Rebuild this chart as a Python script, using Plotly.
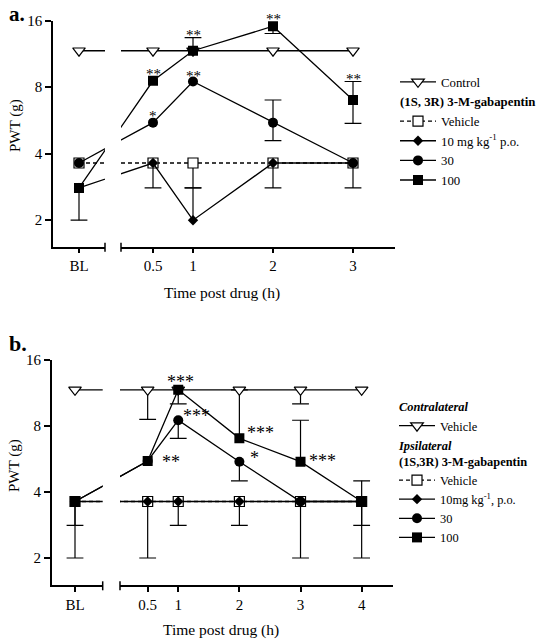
import numpy as np
import plotly.graph_objects as go

# ---------------- data ----------------
# Panel a  (time points: BL, 0.5, 1, 2, 3 h)
a_time_labels = ["BL", "0.5", "1", "2", "3"]
a_times = ["BL", 0.5, 1, 2, 3]
a_control = [11.7, 11.7, 11.7, 11.7, 11.7]
a_vehicle = [3.63, 3.63, 3.63, 3.63, 3.63]
a_dose10 = [2.8, 3.63, 2.0, 3.63, 3.63]
a_dose30 = [3.63, 5.53, 8.49, 5.53, 3.63]
a_dose100 = [2.8, 8.55, 11.7, 15.1, 7.0]
# error bar ends (g); None = no bar on that side
a_control_hi = [None, None, None, None, None]
a_control_lo = [None, None, None, None, None]
a_vehicle_hi = [None, None, None, None, None]
a_vehicle_lo = [None, 2.8, 2.8, 2.8, 2.8]
a_dose10_hi = [None, None, 2.8, None, None]
a_dose10_lo = [None, None, None, None, None]
a_dose30_hi = [None, None, None, 7.0, None]
a_dose30_lo = [None, None, None, 4.58, None]
a_dose100_hi = [None, None, 13.4, None, 8.49]
a_dose100_lo = [2.0, None, None, 14.0, 5.49]
a_star_x = [0.5, 0.5, 1, 1, 2, 3]
a_star_at = [8.55, 5.53, 13.4, 8.49, 15.1, 8.49]
a_star_text = ["**", "*", "**", "**", "**", "**"]

# Panel b  (time points: BL, 0.5, 1, 2, 3, 4 h)
b_time_labels = ["BL", "0.5", "1", "2", "3", "4"]
b_times = ["BL", 0.5, 1, 2, 3, 4]
b_control = [11.7, 11.7, 11.7, 11.7, 11.7, 11.7]
b_vehicle = [3.62, 3.62, 3.62, 3.62, 3.62, 3.62]
b_dose10 = [3.62, 3.62, 3.62, 3.62, 3.62, 3.62]
b_dose30 = [3.62, 5.54, 8.5, 5.5, 3.62, 3.62]
b_dose100 = [3.62, 5.54, 11.7, 7.03, 5.5, 3.62]
b_control_hi = [None, None, None, None, None, None]
b_control_lo = [None, 8.58, None, None, 10.1, None]
b_vehicle_hi = [None, None, None, None, None, None]
b_vehicle_lo = [2.0, 2.0, 2.82, 2.82, 2.0, 2.0]
b_dose10_hi = [None, None, None, None, None, None]
b_dose10_lo = [2.82, None, None, None, None, 2.82]
b_dose30_hi = [None, None, None, None, None, None]
b_dose30_lo = [None, None, 7.03, 4.5, None, None]
b_dose100_hi = [None, None, None, 11.7, 8.5, 4.5]
b_dose100_lo = [None, None, 10.1, None, None, None]
b_star_x = [0.5, 1, 1, 2, 2, 3]
b_star_at = [5.54, 11.7, 8.5, 7.03, 5.5, 5.5]
b_star_text = ["**", "***", "***", "***", "*", "***"]

y_ticks = [2, 4, 8, 16]

# ---------------- layout geometry (pixels) ----------------
W, H = 547, 640
FONT = "Liberation Serif"


def fx(p):
    return p / W


def fy(p):
    return 1 - p / H


PANELS = {
    "a": dict(ytop=20.7, ybot=246.7, ppd=66.5, left=53, seg1r=105, seg2l=121, right=395,
              x0=113, unit=80, blpx=79, xa1="x", xa2="x2", ya="y", legend="legend"),
    "b": dict(ytop=360, ybot=585.3, ppd=66.0, left=51.7, seg1r=102.7, seg2l=120, right=392.7,
              x0=117.1, unit=61.14, blpx=75, xa1="x3", xa2="x4", ya="y2", legend="legend2"),
}
for P in PANELS.values():
    P["bl"] = (P["blpx"] - P["x0"]) / P["unit"]
    P["r1"] = [(P["left"] - P["x0"]) / P["unit"], (P["seg1r"] - P["x0"]) / P["unit"]]
    P["r2"] = [(P["seg2l"] - P["x0"]) / P["unit"], (P["right"] - P["x0"]) / P["unit"]]
    ybottom = 16 / 2 ** ((P["ybot"] - P["ytop"]) / P["ppd"])
    P["yr"] = [np.log10(ybottom), np.log10(16)]

fig = go.Figure()

STY = {
    "control": dict(marker=dict(symbol="triangle-down", size=11, color="white",
                                line=dict(color="black", width=1.2)),
                    line=dict(color="black", width=1.3)),
    "vehicle": dict(marker=dict(symbol="square", size=10, color="white",
                                line=dict(color="black", width=1.2)),
                    line=dict(color="black", width=1.3, dash="4px,3px")),
    "d10": dict(marker=dict(symbol="diamond", size=8, color="black"),
                line=dict(color="black", width=1.3)),
    "d30": dict(marker=dict(symbol="circle", size=10, color="black"),
                line=dict(color="black", width=1.3)),
    "d100": dict(marker=dict(symbol="square", size=10, color="black"),
                 line=dict(color="black", width=1.3)),
}


def xpos(times, P):
    return [P["bl"] if t == "BL" else t for t in times]


def add_errors(P, times, series):
    xs = xpos(times, P)
    sx, sy, cx, cy = [], [], [], []
    for vals, hi, lo in series:
        for x, v, h, l in zip(xs, vals, hi, lo):
            if h is None and l is None:
                continue
            top = h if h is not None else v
            bot = l if l is not None else v
            sx += [x, x, None]
            sy += [top, bot, None]
            if h is not None:
                cx.append(x); cy.append(h)
            if l is not None:
                cx.append(x); cy.append(l)
    for xa in (P["xa1"], P["xa2"]):
        fig.add_trace(go.Scatter(x=sx, y=sy, mode="lines", xaxis=xa, yaxis=P["ya"],
                                 line=dict(color="black", width=1.2), showlegend=False,
                                 hoverinfo="skip"))
        fig.add_trace(go.Scatter(x=cx, y=cy, mode="markers", xaxis=xa, yaxis=P["ya"],
                                 marker=dict(symbol="line-ew", size=12,
                                             line=dict(color="black", width=1.2)),
                                 showlegend=False, hoverinfo="skip"))


LEGFONT_A = dict(family=FONT, size=12.8, color="black")
LEGFONT_B = dict(family=FONT, size=12.4, color="black")


def add_series(P, times, vals, key, name, group, gtitle=None, gfont=None):
    xs = xpos(times, P)
    for i, xa in enumerate((P["xa1"], P["xa2"])):
        kw = dict(x=xs, y=vals, mode="lines+markers", xaxis=xa, yaxis=P["ya"],
                  name=name, legend=P["legend"], legendgroup=P["legend"] + group,
                  showlegend=(i == 1), **STY[key])
        if gtitle:
            kw["legendgrouptitle"] = dict(text=gtitle, font=gfont)
        fig.add_trace(go.Scatter(**kw))


# ---- panel a ----
PA = PANELS["a"]
add_errors(PA, a_times, [(a_control, a_control_hi, a_control_lo),
                         (a_vehicle, a_vehicle_hi, a_vehicle_lo),
                         (a_dose10, a_dose10_hi, a_dose10_lo),
                         (a_dose30, a_dose30_hi, a_dose30_lo),
                         (a_dose100, a_dose100_hi, a_dose100_lo)])
add_series(PA, a_times, a_control, "control", "Control", "g1")
GT_A = "<b>(1S, 3R) 3-M-gabapentin</b>"
add_series(PA, a_times, a_vehicle, "vehicle", "Vehicle", "g2", GT_A, LEGFONT_A)
add_series(PA, a_times, a_dose10, "d10", "10 mg kg<sup>-1</sup> p.o.", "g2", GT_A, LEGFONT_A)
add_series(PA, a_times, a_dose30, "d30", "30", "g2", GT_A, LEGFONT_A)
add_series(PA, a_times, a_dose100, "d100", "100", "g2", GT_A, LEGFONT_A)

# ---- panel b ----
PB = PANELS["b"]
add_errors(PB, b_times, [(b_control, b_control_hi, b_control_lo),
                         (b_vehicle, b_vehicle_hi, b_vehicle_lo),
                         (b_dose10, b_dose10_hi, b_dose10_lo),
                         (b_dose30, b_dose30_hi, b_dose30_lo),
                         (b_dose100, b_dose100_hi, b_dose100_lo)])
add_series(PB, b_times, b_control, "control", "Vehicle", "g1", "<b><i>Contralateral</i></b>", LEGFONT_B)
GT_B = "<b><i>Ipsilateral</i></b><br><b>(1S,3R) 3-M-gabapentin</b>"
add_series(PB, b_times, b_vehicle, "vehicle", "Vehicle", "g2", GT_B, LEGFONT_B)
add_series(PB, b_times, b_dose10, "d10", "10mg kg<sup>-1</sup>, p.o.", "g2", GT_B, LEGFONT_B)
add_series(PB, b_times, b_dose30, "d30", "30", "g2", GT_B, LEGFONT_B)
add_series(PB, b_times, b_dose100, "d100", "100", "g2", GT_B, LEGFONT_B)

# ---------------- axes ----------------
tickfont = dict(family=FONT, size=15, color="black")
axline = dict(showline=True, linecolor="black", linewidth=1.5, ticks="outside",
              tickcolor="black", tickwidth=1.5, showgrid=False, zeroline=False,
              tickfont=tickfont, automargin=False)

layout = dict(template="none", width=W, height=H, margin=dict(l=0, r=0, t=0, b=0, autoexpand=False),
              paper_bgcolor="white", plot_bgcolor="white", showlegend=True,
              font=dict(family=FONT, color="black"))

for P, labels, times, ax1, ax2, yk in ((PA, a_time_labels, a_times, "xaxis", "xaxis2", "yaxis"),
                                        (PB, b_time_labels, b_times, "xaxis3", "xaxis4", "yaxis2")):
    ydom = [fy(P["ybot"]), fy(P["ytop"])]
    layout[ax1] = dict(domain=[fx(P["left"]), fx(P["seg1r"])], range=P["r1"], anchor=P["ya"],
                       tickvals=[P["bl"]], ticktext=[labels[0]], ticklen=5, **axline)
    layout[ax2] = dict(domain=[fx(P["seg2l"]), fx(P["right"])], range=P["r2"], anchor=P["ya"],
                       tickvals=times[1:], ticktext=labels[1:], ticklen=5, **axline)
    layout[yk] = dict(domain=ydom, type="log", range=P["yr"], anchor=P["xa1"],
                      tickvals=y_ticks, ticktext=[str(v) for v in y_ticks], ticklen=6, **axline)

# legends
layout["legend"] = dict(x=fx(395), y=fy(67), xanchor="left", yanchor="top", font=LEGFONT_A,
                        traceorder="grouped", tracegroupgap=0, bgcolor="rgba(0,0,0,0)",
                        itemwidth=36)
layout["legend2"] = dict(x=fx(394), y=fy(392), xanchor="left", yanchor="top", font=LEGFONT_B,
                         traceorder="grouped", tracegroupgap=0, bgcolor="rgba(0,0,0,0)",
                         itemwidth=36)

fig.update_layout(**layout)

# axis-break end ticks
for P in (PA, PB):
    for xa, xv in ((P["xa1"], 1), (P["xa2"], 0)):
        fig.add_shape(type="line", xref=xa + " domain", x0=xv, x1=xv,
                      yref=P["ya"] + " domain", ysizemode="pixel", yanchor=0, y0=-5, y1=4,
                      line=dict(color="black", width=1.5))

# axis titles and panel labels
TXT = dict(xref="paper", yref="paper", showarrow=False, xanchor="center", yanchor="middle")
ann = []
ann.append(dict(text="Time post drug (h)", x=fx(222), y=fy(292.5),
                font=dict(family=FONT, size=15.5, color="black"), **TXT))
ann.append(dict(text="Time post drug (h)", x=fx(221), y=fy(630),
                font=dict(family=FONT, size=15.5, color="black"), **TXT))
ann.append(dict(text="PWT (g)", x=fx(15), y=fy(126), textangle=-90,
                font=dict(family=FONT, size=15, color="black"), **TXT))
ann.append(dict(text="PWT (g)", x=fx(14), y=fy(466), textangle=-90,
                font=dict(family=FONT, size=15, color="black"), **TXT))
ann.append(dict(text="<b>a.</b>", x=fx(17), y=fy(14),
                font=dict(family=FONT, size=21, color="black"), **TXT))
ann.append(dict(text="<b>b.</b>", x=fx(18), y=fy(343),
                font=dict(family=FONT, size=22, color="black"), **TXT))

# significance stars, panel a: above the point / error cap
a_star_dy = [7, 7, 3, 6, 7, 3]
for x, v, t, dy in zip(a_star_x, a_star_at, a_star_text, a_star_dy):
    ann.append(dict(text=t, x=x, y=np.log10(v), xref="x2", yref="y", showarrow=False,
                    xanchor="center", yanchor="middle", yshift=dy,
                    font=dict(family=FONT, size=15, color="black")))
# panel b: mostly to the right of the point
b_star_dx = [12, 2, 3, 6, 9, 6]
b_star_dy = [-1, 8, 4, 5, 4, 1]
b_star_anchor = ["left", "center", "left", "left", "left", "left"]
for x, v, t, dx, dy, xa in zip(b_star_x, b_star_at, b_star_text, b_star_dx, b_star_dy, b_star_anchor):
    ann.append(dict(text=t, x=x, y=np.log10(v), xref="x4", yref="y2", showarrow=False,
                    xanchor=xa, yanchor="middle", xshift=dx, yshift=dy,
                    font=dict(family=FONT, size=18, color="black")))
fig.update_layout(annotations=ann)

fig.write_html("out.html", config={"displayModeBar": False},
               post_script="document.body.style.margin='0';document.body.style.padding='0';")
